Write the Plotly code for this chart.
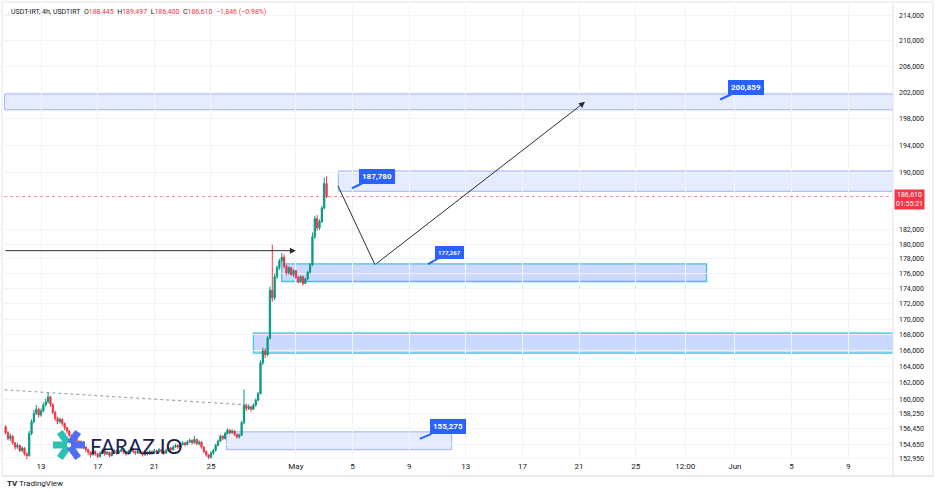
import numpy as np
import pandas as pd
import plotly.graph_objects as go

# ---------------- data (USDT-IRT, 4h candles) ----------------
start_time = "2025-04-10 12:00"
opens = [156700, 156000, 155300, 155600, 154800, 154300, 154500, 153900, 154200, 153500,
         153300, 155900, 157300, 158300, 158800, 158100, 158600, 159300, 159700, 160300,
         159400, 158400, 157700, 157300, 157600, 157100, 156600, 156200, 155700, 155300,
         155600, 155000, 154600, 154900, 154300, 154000, 153700, 153400, 153800, 153500,
         153200, 153600, 153900, 153500, 153700, 153300, 153600, 153900, 153600, 153800,
         154000, 153700, 153500, 153800, 154100, 153800, 153600, 153900, 153700, 153400,
         153700, 153500, 153800, 153600, 153900, 153700, 154000, 153800, 153600, 153900,
         154200, 154000, 154300, 154500, 154300, 154600, 154800, 154600, 154900, 155100,
         154800, 155200, 154700, 154900, 154300, 153800, 153400, 153100, 153600, 153900,
         154500, 155000, 155600, 155300, 155900, 156300, 156000, 156200, 155800, 155500,
         155700, 157200, 159300, 158900, 159100, 158800, 159300, 159900, 160700, 164500,
         166000, 165500, 167600, 173800, 172800, 175600, 176800, 177700, 178200, 177000,
         176100, 176800, 175900, 176400, 175500, 174900, 175600, 174700, 175300, 176200,
         177200, 181000, 183500, 182200, 183100, 185000, 188445]
closes = [156000, 155300, 155600, 154800, 154300, 154500, 153900, 154200, 153500, 153300,
          155900, 157300, 158300, 158800, 158100, 158600, 159300, 159700, 160300, 159400,
          158400, 157700, 157300, 157600, 157100, 156600, 156200, 155700, 155300, 155600,
          155000, 154600, 154900, 154300, 154000, 153700, 153400, 153800, 153500, 153200,
          153600, 153900, 153500, 153700, 153300, 153600, 153900, 153600, 153800, 154000,
          153700, 153500, 153800, 154100, 153800, 153600, 153900, 153700, 153400, 153700,
          153500, 153800, 153600, 153900, 153700, 154000, 153800, 153600, 153900, 154200,
          154000, 154300, 154500, 154300, 154600, 154800, 154600, 154900, 155100, 154800,
          155200, 154700, 154900, 154300, 153800, 153400, 153100, 153600, 153900, 154500,
          155000, 155600, 155300, 155900, 156300, 156000, 156200, 155800, 155500, 155700,
          157200, 159300, 158900, 159100, 158800, 159300, 159900, 160700, 164500, 166000,
          165500, 167600, 173800, 172800, 175600, 176800, 177700, 178200, 177000, 176100,
          176800, 175900, 176400, 175500, 174900, 175600, 174700, 175300, 176200, 177200,
          181000, 183500, 182200, 183100, 185000, 188445, 186610]
highs = [156900, 156200, 155900, 155700, 154900, 154800, 154600, 154400, 154300, 153700,
         156200, 157600, 158700, 159300, 159000, 158900, 159600, 160100, 160800, 160400,
         159500, 158600, 157900, 157800, 157700, 157200, 156700, 156300, 155800, 155800,
         155700, 155100, 155100, 155000, 154400, 154100, 153800, 154000, 153900, 153600,
         153800, 154100, 154000, 153900, 153800, 153800, 154100, 154000, 154000, 154200,
         154100, 153800, 154000, 154300, 154200, 153900, 154100, 154000, 153800, 153900,
         153800, 154000, 153900, 154100, 154000, 154200, 154100, 153900, 154100, 154400,
         154300, 154500, 154700, 154600, 154800, 155000, 154900, 155100, 155300, 155200,
         155600, 155300, 155100, 155000, 154400, 153900, 153500, 153800, 154100, 154700,
         155200, 155800, 155700, 156100, 156500, 156400, 156400, 156300, 155900, 155900,
         157400, 161200, 159500, 159400, 159200, 159500, 160100, 160900, 164800, 166400,
         166300, 167900, 174300, 179900, 176000, 177100, 178000, 178800, 178600, 177200,
         177000, 176900, 176600, 176500, 175700, 175800, 175700, 175500, 176400, 177400,
         181600, 183900, 184000, 183400, 185300, 189300, 189497]
lows = [155800, 155100, 155000, 154600, 154000, 154100, 153700, 153700, 153300, 152900,
        153200, 155700, 157100, 158100, 157800, 157900, 158400, 159100, 159500, 159100,
        158200, 157400, 157000, 157100, 156800, 156300, 155900, 155500, 155000, 155100,
        154800, 154300, 154400, 154100, 153700, 153400, 153100, 153300, 153300, 153000,
        153100, 153500, 153300, 153400, 153100, 153200, 153500, 153400, 153500, 153700,
        153500, 153300, 153400, 153700, 153600, 153400, 153500, 153500, 153200, 153300,
        153300, 153400, 153400, 153500, 153500, 153600, 153600, 153400, 153500, 153800,
        153800, 153900, 154200, 154100, 154200, 154500, 154400, 154500, 154800, 154600,
        154700, 154500, 154500, 154100, 153600, 153200, 152900, 153000, 153400, 153800,
        154400, 154900, 155100, 155200, 155800, 155800, 155900, 155600, 155300, 155300,
        155600, 157000, 158600, 158700, 158500, 158700, 159100, 159800, 160600, 164200,
        165100, 165300, 167400, 172300, 172500, 175300, 176500, 177400, 176700, 175800,
        175900, 175700, 175600, 175300, 174700, 174800, 174400, 174600, 175100, 176000,
        177000, 180700, 181800, 181900, 182900, 184800, 186400]

y_tick_vals = [214000, 210000, 206000, 202000, 198000, 194000, 190000, 182000, 180000,
               178000, 176000, 174000, 172000, 170000, 168000, 166000, 164000, 162000,
               160000, 158250, 156450, 154650, 152950]
y_tick_text = [f"{v:,}" for v in y_tick_vals]
x_tick_vals = ["2025-04-13", "2025-04-17", "2025-04-21", "2025-04-25", "2025-05-01",
               "2025-05-05", "2025-05-09", "2025-05-13", "2025-05-17", "2025-05-21",
               "2025-05-25", "2025-05-28 12:00", "2025-06-01", "2025-06-05", "2025-06-09"]
x_tick_text = ["13", "17", "21", "25", "May", "5", "9", "13", "17", "21", "25", "12:00",
               "Jun", "5", "9"]

# zones
zone_starts = ["2025-04-10 10:00", "2025-05-04 00:00", "2025-04-30 00:00", "2025-04-28 00:00", "2025-04-26 02:00"]
zone_ends = ["2025-07-01", "2025-07-01", "2025-05-30 00:00", "2025-07-01", "2025-05-12 00:00"]
zone_lows = [199300, 187350, 174960, 165700, 154000]
zone_highs = [201700, 190250, 177300, 168250, 156100]
zone_strong = [False, False, True, True, False]

# price callouts
callout_times = ["2025-05-30 23:00", "2025-05-04 23:00", "2025-05-10 08:00", "2025-05-09 18:00"]
callout_prices = [200859, 187780, 177267, 155275]
callout_sizes = [8, 8, 6, 8]

last_price = 186610
countdown = "01:55:21"

# drawings
hline_times = ["2025-04-10 09:00", "2025-05-01 00:00"]
hline_price = 179100
trend_times = ["2025-04-10 10:00", "2025-04-27 18:00"]
trend_prices = [161150, 159300]
path_times = ["2025-05-03 23:20", "2025-05-06 14:00", "2025-05-21 10:00"]
path_prices = [188120, 177200, 200500]

# ---------------- figure ----------------
times = pd.date_range(start_time, periods=len(closes), freq="4h")

GREEN = "#089981"
RED = "#f23645"
TXT = "#131722"
GRID = "#f2f4f9"

fig = go.Figure()
fig.add_trace(go.Candlestick(
    x=times, open=opens, high=highs, low=lows, close=closes,
    increasing=dict(line=dict(color=GREEN, width=1), fillcolor=GREEN),
    decreasing=dict(line=dict(color=RED, width=1), fillcolor=RED),
    whiskerwidth=0, hoverinfo="skip", showlegend=False,
))

fig.add_trace(go.Scatter(x=trend_times, y=trend_prices, mode="lines",
                         line=dict(color="#9598a1", width=1, dash="dot"),
                         hoverinfo="skip", showlegend=False))
fig.add_trace(go.Scatter(x=path_times[:2], y=path_prices[:2], mode="lines",
                         line=dict(color="#2a2e39", width=1),
                         hoverinfo="skip", showlegend=False))

shapes = []
for s, e, lo, hi, strong in zip(zone_starts, zone_ends, zone_lows, zone_highs, zone_strong):
    shapes.append(dict(type="rect", xref="x", yref="y", x0=s, x1=e, y0=lo, y1=hi,
                       fillcolor="rgba(41,98,255,0.24)" if strong else "rgba(41,98,255,0.12)",
                       line=dict(color="#3fc4dc" if strong else "#9fb4ef", width=1.3 if strong else 1),
                       layer="below"))
shapes.append(dict(type="line", xref="paper", yref="y", x0=0, x1=1, y0=last_price, y1=last_price,
                   line=dict(color="rgba(242,54,69,0.55)", width=1, dash="dot")))

W, H = 936, 492
L, R, T, B = 4, 43, 5, 32
pw, ph = W - L - R, H - T - B


def px(xp):
    return (xp - L) / pw


def py(yp):
    return (H - B - yp) / ph


shapes.append(dict(type="line", xref="paper", yref="paper", x0=1, x1=1, y0=py(476), y1=py(3),
                   line=dict(color="#e0e3eb", width=1)))
shapes.append(dict(type="line", xref="paper", yref="paper", x0=px(2), x1=px(934), y0=py(476), y1=py(476),
                   line=dict(color="#e0e3eb", width=1)))
shapes.append(dict(type="rect", xref="paper", yref="paper", x0=px(2), x1=px(933), y0=py(476), y1=py(2),
                   line=dict(color="#e0e3eb", width=1), fillcolor="rgba(0,0,0,0)"))

# FARAZ.IO logo (asterisk)
cx, cy = 69, 445
arms = [(180, "#2ac3b1"), (125, "#2ac3b1"), (235, "#2ac3b1"),
        (0, "#4f6ef2"), (55, "#4f6ef2"), (305, "#4f6ef2")]
for ang, col in arms:
    a = np.deg2rad(ang)
    x0p, y0p = cx + 2 * np.cos(a), cy - 2 * np.sin(a)
    x1p, y1p = cx + 16 * np.cos(a), cy - 16 * np.sin(a)
    shapes.append(dict(type="line", xref="paper", yref="paper",
                       x0=px(x0p), y0=py(y0p), x1=px(x1p), y1=py(y1p),
                       line=dict(color=col, width=7)))

annotations = []
sp = "&nbsp; "
hdr = (f"<span style='color:{TXT}'>USDT-IRT, 4h, USDTIRT</span>{sp}"
       f"<span style='color:{TXT}'>O</span><span style='color:{RED}'>188,445</span>{sp}"
       f"<span style='color:{TXT}'>H</span><span style='color:{RED}'>189,497</span>{sp}"
       f"<span style='color:{TXT}'>L</span><span style='color:{RED}'>186,400</span>{sp}"
       f"<span style='color:{TXT}'>C</span><span style='color:{RED}'>186,610</span>{sp}"
       f"<span style='color:{RED}'>−1,846 (−0.98%)</span>")
annotations.append(dict(xref="paper", yref="paper", x=px(9), y=py(12), xanchor="left", yanchor="middle",
                        text=hdr, showarrow=False, font=dict(size=7, family="Roboto, sans-serif", color=TXT)))

offsets = [(26, -12), (25, -12), (21, -12), (28, -12)]
for t, p, fs, (dx, dy) in zip(callout_times, callout_prices, callout_sizes, offsets):
    annotations.append(dict(x=t, y=np.log10(p), xref="x", yref="y", text=f"<b>{p:,}</b>",
                            showarrow=True, ax=dx, ay=dy, arrowhead=0, arrowwidth=2,
                            arrowcolor="#2962ff", bgcolor="#2962ff", bordercolor="#2962ff",
                            borderpad=2, font=dict(color="white", size=fs, family="Roboto, sans-serif")))

annotations.append(dict(x=hline_times[1], y=np.log10(hline_price), ax=hline_times[0],
                        ay=np.log10(hline_price), xref="x", yref="y", axref="x", ayref="y",
                        text="", showarrow=True, arrowhead=2, arrowsize=1.2, arrowwidth=1,
                        arrowcolor="#2a2e39"))
annotations.append(dict(x=path_times[2], y=np.log10(path_prices[2]), ax=path_times[1],
                        ay=np.log10(path_prices[1]), xref="x", yref="y", axref="x", ayref="y",
                        text="", showarrow=True, arrowhead=2, arrowsize=1.2, arrowwidth=1,
                        arrowcolor="#2a2e39"))

annotations.append(dict(xref="paper", yref="y", x=1, y=np.log10(last_price), xanchor="left",
                        yanchor="middle", xshift=1, yshift=-3,
                        text=f"{last_price:,}<br>{countdown}", showarrow=False, align="center",
                        bgcolor=RED, borderpad=1,
                        font=dict(color="white", size=7, family="Roboto, sans-serif")))

annotations.append(dict(xref="paper", yref="paper", x=px(88), y=py(445), xanchor="left",
                        yanchor="middle", text="FARAZ.IO", showarrow=False,
                        font=dict(color="#1d2248", size=21, family="Lato, sans-serif")))

annotations.append(dict(xref="paper", yref="paper", x=px(5), y=py(483), xanchor="left",
                        yanchor="middle", text="<b>TV</b> TradingView", showarrow=False,
                        font=dict(color=TXT, size=8, family="Roboto, sans-serif")))

fig.update_layout(
    width=W, height=H,
    margin=dict(l=L, r=R, t=T, b=B),
    paper_bgcolor="white", plot_bgcolor="white",
    showlegend=False,
    shapes=shapes, annotations=annotations,
    xaxis=dict(type="date", range=["2025-04-10 09:17", "2025-06-12 04:00"],
               tickvals=x_tick_vals, ticktext=x_tick_text, tickfont=dict(size=8, color=TXT,
               family="Roboto, sans-serif"), showgrid=True, gridcolor=GRID, gridwidth=1,
               zeroline=False, rangeslider=dict(visible=False), ticks="", showline=False),
    yaxis=dict(type="log", side="right", range=[np.log10(152800), np.log10(215790)],
               tickvals=y_tick_vals, ticktext=y_tick_text,
               tickfont=dict(size=7, color=TXT, family="Roboto, sans-serif"),
               showgrid=True, gridcolor=GRID, gridwidth=1, zeroline=False, ticks="",
               ticklabelstandoff=5),
    boxgap=0.25,
)

fig.write_html("out.html")
